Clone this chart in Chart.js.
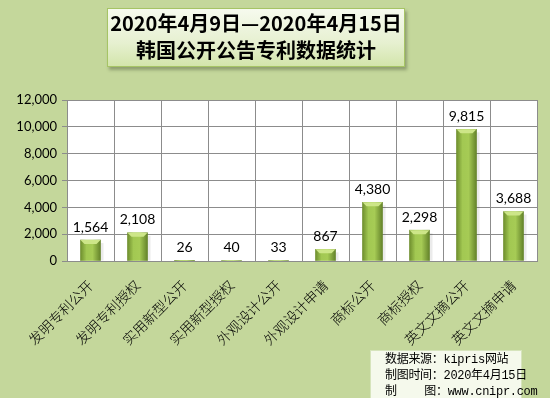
<!DOCTYPE html>
<html>
<head>
<meta charset="utf-8">
<script src="https://cdn.jsdelivr.net/npm/chart.js@4"></script>
<style>
  html, body { margin: 0; padding: 0; background: #c4d79b; }
  #wrap { position: relative; width: 550px; height: 398px; overflow: hidden; }
  canvas { position: absolute; left: 0; top: 0; }
  #title {
    position: absolute; left: 107px; top: 8px; width: 296px; height: 57px;
    border: 1px solid #a6c465;
    background: linear-gradient(to bottom, #f6faee 0%, #e6f0d0 60%, #d3e5ab 100%);
    box-shadow: 2px 3px 3px rgba(80, 90, 60, 0.45);
    font-family: "Noto Sans CJK SC", "Open Sans", sans-serif;
    font-weight: bold; font-size: 20px; line-height: 27px;
    text-align: center; color: #000;
  }
  #source {
    position: absolute; left: 370px; top: 350px; width: 152px; height: 60px;
    background: #f5f9ec; border: 1px solid #d6e4bc;
    font-family: "Liberation Mono", "Noto Sans CJK SC", monospace;
    font-size: 12px; line-height: 16px; color: #000; white-space: nowrap;
    padding: 1px 0 0 14px; box-sizing: border-box; letter-spacing: -0.3px;
  }
</style>
</head>
<body>
<div id="wrap">
  <canvas id="chart" width="550" height="398"></canvas>
  <div id="title">2020年4月9日—2020年4月15日<br>韩国公开公告专利数据统计</div>
  <div id="source">数据来源：kipris网站<br>制图时间：2020年4月15日<br>制&nbsp;&nbsp;&nbsp;&nbsp;图：www.cnipr.com</div>
</div>
<script>
// categories and counts
const categories = ["发明专利公开", "发明专利授权", "实用新型公开", "实用新型授权", "外观设计公开",
  "外观设计申请", "商标公开", "商标授权", "英文文摘公开", "英文文摘申请"];
const counts = [1564, 2108, 26, 40, 33, 867, 4380, 2298, 9815, 3688];
const yTicks = [0, 2000, 4000, 6000, 8000, 10000, 12000];

// white plot area behind the bars
const plotBg = {
  id: "plotBg",
  beforeDraw(chart) {
    const { ctx, chartArea: a } = chart;
    ctx.save();
    ctx.fillStyle = "#ffffff";
    ctx.fillRect(a.left, a.top, a.right - a.left, a.bottom - a.top);
    ctx.restore();
  }
};

// soft shadow on the right of each bar
const barShadow = {
  id: "barShadow",
  beforeDatasetsDraw(chart) {
    const ctx = chart.ctx;
    ctx.save();
    ctx.fillStyle = "rgba(0,0,0,0.08)";
    chart.getDatasetMeta(0).data.forEach(bar => {
      const h = bar.base - bar.y;
      if (h > 2) ctx.fillRect(bar.x + bar.width / 2, bar.y + 3, 3, h - 3);
    });
    ctx.restore();
  }
};

// lighter bevel at the top of each bar + value labels
const barExtras = {
  id: "barExtras",
  afterDatasetsDraw(chart) {
    const ctx = chart.ctx;
    const meta = chart.getDatasetMeta(0);
    ctx.save();
    meta.data.forEach((bar, i) => {
      const w = bar.width, x0 = bar.x - w / 2, x1 = bar.x + w / 2;
      const h = bar.base - bar.y;
      const bev = Math.min(4, h / 2);
      if (h > 1) {
        ctx.fillStyle = "#cde688";
        ctx.beginPath();
        ctx.moveTo(x0, bar.y);
        ctx.lineTo(x1, bar.y);
        ctx.lineTo(x1 - bev, bar.y + bev);
        ctx.lineTo(x0 + bev, bar.y + bev);
        ctx.closePath();
        ctx.fill();
      }
      ctx.fillStyle = "#000";
      ctx.font = "14px Lato, 'Open Sans', sans-serif";
      ctx.textAlign = "center";
      ctx.textBaseline = "bottom";
      ctx.fillText(counts[i].toLocaleString("en-US"), bar.x, bar.y - 6);
    });
    ctx.restore();
  }
};

function barGradient(context) {
  const chart = context.chart;
  const el = context.element;
  if (!el || !chart.chartArea || !Number.isFinite(el.x)) return "#9bbb59";
  const w = Number.isFinite(el.width) ? el.width : 20;
  const g = chart.ctx.createLinearGradient(el.x - w / 2, 0, el.x + w / 2, 0);
  g.addColorStop(0, "#6f8f2e");
  g.addColorStop(0.3, "#a2c852");
  g.addColorStop(0.6, "#a6cb55");
  g.addColorStop(1, "#64832a");
  return g;
}

const chart = new Chart(document.getElementById("chart"), {
  type: "bar",
  data: {
    labels: categories,
    datasets: [{
      data: counts,
      backgroundColor: barGradient,
      borderWidth: 0,
      barThickness: 20
    }]
  },
  options: {
    responsive: false,
    animation: false,
    layout: { padding: { top: 100, right: 13, left: 0, bottom: 0 } },
    plugins: { legend: { display: false }, tooltip: { enabled: false } },
    scales: {
      x: {
        grid: { color: "#8c8c8c", offset: true, drawTicks: false },
        border: { color: "#8c8c8c" },
        ticks: {
          minRotation: 45, maxRotation: 45, padding: 16,
          color: "#000",
          font: { family: "'Noto Sans CJK SC'", size: 14, weight: "300" }
        },
        afterFit(scale) { scale.height = 137; }
      },
      y: {
        min: 0, max: 12000,
        afterBuildTicks(scale) { scale.ticks = yTicks.map(v => ({ value: v })); },
        grid: { color: "#8c8c8c", drawTicks: true, tickLength: 5 },
        border: { color: "#8c8c8c" },
        ticks: {
          padding: 5, color: "#000",
          font: { family: "Lato, 'Open Sans', sans-serif", size: 13 },
          callback: v => v.toLocaleString("en-US")
        },
        afterFit(scale) { scale.width = 67; }
      }
    }
  },
  plugins: [plotBg, barShadow, barExtras]
});
// redraw once so the gradient can use the bar positions
chart.update();
</script>
</body>
</html>
